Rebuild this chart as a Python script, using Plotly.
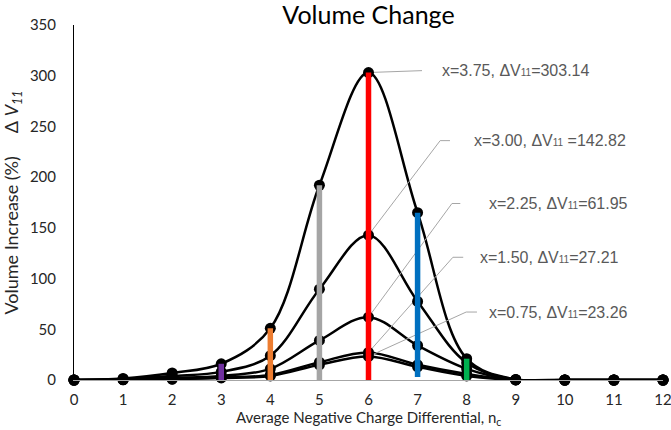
import plotly.graph_objects as go

# ---- data ----
x_vals = list(range(13))
series_names = ["3.75", "3.00", "2.25", "1.50", "0.75"]
s375 = [0, 1.5, 7, 16, 51, 192, 303.14, 165, 21, 0.5, 0, 0, 0]
s300 = [0, 1.0, 4, 8, 24, 89.5, 142.82, 77.5, 17, 0.3, 0, 0, 0]
s225 = [0, 0.5, 2, 4, 11, 39, 61.95, 34, 11, 0.2, 0, 0, 0]
s150 = [0, 0.3, 1, 2.5, 5, 17.5, 27.21, 15, 6, 0.1, 0, 0, 0]
s075 = [0, 0.2, 0.8, 2, 4, 15, 23.26, 13, 4, 0.1, 0, 0, 0]
series = [s375, s300, s225, s150, s075]

bar_x = [3, 4, 5, 6, 7, 8]
bar_low = [0, 0, 0, 0, 3, 0]
bar_colors = ["#7030A0", "#ED7D31", "#A5A5A5", "#FF0000", "#0070C0", "#00B050"]
bar_high = [max(s[i] for s in series) for i in bar_x]

# label anchors (data coords)
label_x = [7.46, 8.11, 8.42, 8.23, 8.42]
label_y = [305, 236, 174, 121, 67]
leader_elbow_x = [7.09, 7.46, 7.70, 7.72, 7.99]
leader_end_x = [7.09, 7.66, 7.87, 7.93, 8.21]
label_gap = ["", " ", "", "", ""]

x_ticks = list(range(13))
x_title = "Average Negative Charge Differential, n<sub>c</sub>"

fig = go.Figure()

# smoothed black lines
for s in series:
    fig.add_trace(go.Scatter(x=x_vals, y=s, mode="lines",
                             line=dict(color="black", width=2.5, shape="spline", smoothing=1.0),
                             hoverinfo="skip", showlegend=False, cliponaxis=False))

# leader lines
for i, s in enumerate(series):
    fig.add_trace(go.Scatter(x=[6, leader_elbow_x[i], leader_end_x[i]],
                             y=[s[6], label_y[i], label_y[i]], mode="lines",
                             line=dict(color="#A6A6A6", width=1),
                             hoverinfo="skip", showlegend=False))

# markers
for s in series:
    fig.add_trace(go.Scatter(x=x_vals, y=s, mode="markers",
                             marker=dict(color="black", size=11),
                             hoverinfo="skip", showlegend=False, cliponaxis=False))

# coloured vertical bars
for bx, lo, hi, c in zip(bar_x, bar_low, bar_high, bar_colors):
    fig.add_trace(go.Scatter(x=[bx, bx], y=[lo, hi], mode="lines",
                             line=dict(color=c, width=5.5),
                             hoverinfo="skip", showlegend=False, cliponaxis=False))

for i, (name, s) in enumerate(zip(series_names, series)):
    fig.add_annotation(x=label_x[i], y=label_y[i], xref="x", yref="y",
                       xanchor="left", yanchor="middle", showarrow=False,
                       text=f"x={name}, ΔV<span style='font-size:10px'>11</span>{label_gap[i]}={s[6]:.2f}",
                       font=dict(family="Liberation Sans", size=16, color="#595959"))

# x-axis title (placed at the very bottom edge)
fig.add_annotation(x=0.5, y=-50 / 355, xref="paper", yref="paper",
                   xanchor="center", yanchor="bottom", showarrow=False,
                   text=x_title, font=dict(family="Lato", size=15, color="#262626"))

fig.update_layout(
    width=671, height=430,
    margin=dict(l=74, r=8, t=25, b=50),
    paper_bgcolor="white", plot_bgcolor="white",
    title=dict(text="Volume Change", x=(74 + 663) / 2 / 671, xanchor="center",
               y=0.985, yanchor="top",
               font=dict(family="Lato", size=25, color="black")),
    font=dict(family="Lato", color="#262626"),
    xaxis=dict(range=[0, 12], tickvals=x_ticks, showgrid=False, zeroline=False,
               showline=True, linecolor="#A6A6A6", linewidth=1, automargin=False,
               ticklabeloverflow="allow",
               tickfont=dict(size=15), ticklabelstandoff=6),
    yaxis=dict(range=[0, 350], dtick=50, showgrid=False, zeroline=False,
               showline=True, linecolor="black", linewidth=1, automargin=False,
               ticklabeloverflow="allow",
               tickfont=dict(size=15), ticklabelstandoff=14,
               title=dict(text="Volume Increase (%)     Δ <i>V<sub>11</sub></i>",
                          font=dict(size=18), standoff=12)),
)

fig.write_html("out.html")
